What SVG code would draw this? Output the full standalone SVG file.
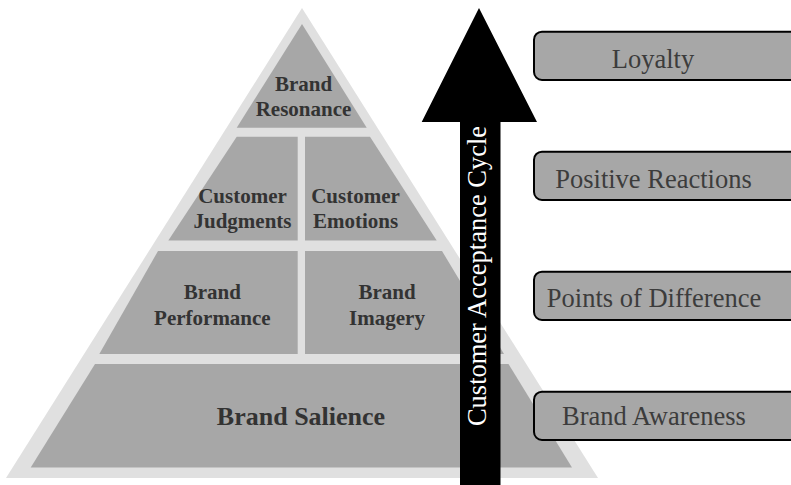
<svg xmlns="http://www.w3.org/2000/svg" width="791" height="485" viewBox="0 0 791 485">
  <style>
    .tier { fill: #a7a7a7; }
    .lbl { font-family: 'Liberation Serif', 'DejaVu Serif', serif; font-weight: bold; font-size: 21px; fill: #333333; text-anchor: middle; }
    .big { font-size: 26px; }
    .box { fill: #a7a7a7; stroke: #000000; stroke-width: 2; }
    .boxlbl { font-family: 'Liberation Serif', 'DejaVu Serif', serif; font-size: 26.5px; fill: #3c3c3c; text-anchor: middle; }
    .arrowlbl { font-family: 'Liberation Serif', 'DejaVu Serif', serif; font-size: 26.5px; fill: #ffffff; text-anchor: middle; }
  </style>
  <rect width="791" height="485" fill="#ffffff"/>
  <g id="pyramid">
    <polygon points="302,8 6,478 598,478" fill="#e0e0e0"/>
  </g>
  <g id="brand-resonance">
    <polygon class="tier" points="302,24 366.7,127.7 236.7,127.7"/>
    <text class="lbl" x="303.5" y="90.7">Brand</text>
    <text class="lbl" x="303.5" y="116">Resonance</text>
  </g>
  <g id="customer-judgments">
    <polygon class="tier" points="236.7,136.7 297.7,136.7 297.7,240.5 168.3,240.5"/>
    <text class="lbl" x="242.5" y="203.3">Customer</text>
    <text class="lbl" x="242.5" y="228">Judgments</text>
  </g>
  <g id="customer-emotions">
    <polygon class="tier" points="305,136.7 370,136.7 436.7,240.5 305,240.5"/>
    <text class="lbl" x="355.5" y="203.3">Customer</text>
    <text class="lbl" x="355.5" y="228">Emotions</text>
  </g>
  <g id="brand-performance">
    <polygon class="tier" points="158,251 297.7,251 297.7,354 99.3,354"/>
    <text class="lbl" x="212.4" y="299.3">Brand</text>
    <text class="lbl" x="212.4" y="325">Performance</text>
  </g>
  <g id="brand-imagery">
    <polygon class="tier" points="305,251 442,251 504,354 305,354"/>
    <text class="lbl" x="387" y="299">Brand</text>
    <text class="lbl" x="387" y="324.5">Imagery</text>
  </g>
  <g id="brand-salience">
    <polygon class="tier" points="95,364 508.5,364 572,467.5 30.7,467.5"/>
    <text class="lbl big" x="301" y="425">Brand Salience</text>
  </g>
  <g id="connectors">
    <g id="acceptance-arrow">
      <polygon points="479,8 537,122 500.5,122 500.5,485 460,485 460,122 421.7,122" fill="#000000"/>
      <text class="arrowlbl" transform="translate(486,276) rotate(-90)" x="0" y="0">Customer Acceptance Cycle</text>
    </g>
  </g>
  <g id="loyalty">
    <rect class="box" x="534" y="31.7" width="280" height="48.3" rx="8"/>
    <text class="boxlbl" x="653" y="68.3">Loyalty</text>
  </g>
  <g id="positive-reactions">
    <rect class="box" x="534" y="151.7" width="280" height="48.3" rx="8"/>
    <text class="boxlbl" x="653.5" y="188.3">Positive Reactions</text>
  </g>
  <g id="points-of-difference">
    <rect class="box" x="534" y="271.7" width="280" height="48.3" rx="8"/>
    <text class="boxlbl" x="654" y="306.7">Points of Difference</text>
  </g>
  <g id="brand-awareness">
    <rect class="box" x="534" y="391.7" width="280" height="48.3" rx="8"/>
    <text class="boxlbl" x="654" y="425">Brand Awareness</text>
  </g>
</svg>
